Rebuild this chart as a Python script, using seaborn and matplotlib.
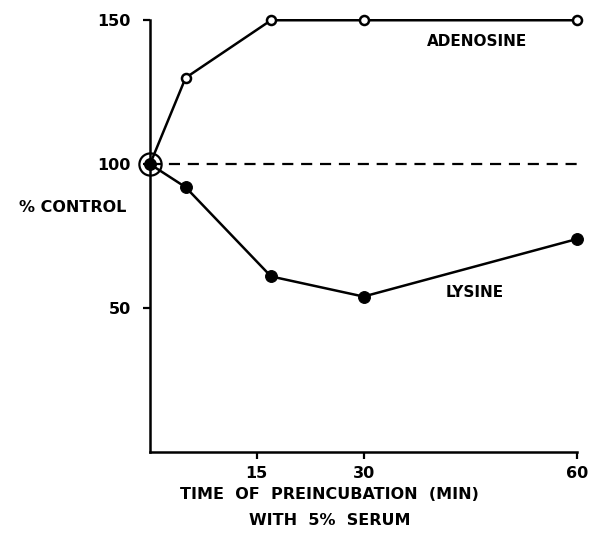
import pandas as pd
import matplotlib
matplotlib.use("Agg")
import matplotlib.pyplot as plt
import seaborn as sns

# time of preincubation (min) and % control
minutes = [0, 5, 17, 30, 60]
adenosine = [100, 130, 150, 150, 150]
lysine = [100, 92, 61, 54, 74]
x_ticks = [15, 30, 60]
y_ticks = [50, 100, 150]

df = pd.DataFrame({'min': minutes, 'adenosine': adenosine, 'lysine': lysine})

sns.set_style('ticks')
plt.rcParams['font.family'] = ['DejaVu Sans']
plt.rcParams['text.color'] = 'black'
plt.rcParams['axes.labelcolor'] = 'black'
plt.rcParams['xtick.color'] = 'black'
plt.rcParams['ytick.color'] = 'black'
plt.rcParams['axes.edgecolor'] = 'black'

fig = plt.figure(figsize=(5.93, 5.33), dpi=100)
ax = fig.add_axes([0.253, 0.152, 0.72, 0.81])

ax.axhline(100, xmin=0, xmax=1, color='black', lw=1.6, ls=(0, (5, 3.5)), zorder=1)

sns.lineplot(ax=ax, data=df, x='min', y='adenosine', color='black', lw=1.8,
             marker='o', markersize=6.5, markerfacecolor='white',
             markeredgecolor='black', markeredgewidth=1.8, clip_on=False, zorder=3)
sns.lineplot(ax=ax, data=df, x='min', y='lysine', color='black', lw=1.8,
             marker='o', markersize=8.5, markerfacecolor='black',
             markeredgecolor='black', clip_on=False, zorder=3)

# ring around the common starting point
ax.plot(minutes[0], lysine[0], 'o', ms=16, mfc='none', mec='black', mew=1.6,
        clip_on=False, zorder=4)

ax.text(46, 142.5, 'ADENOSINE', ha='center', va='center', fontsize=11, fontweight='bold')
ax.text(45.6, 55.5, 'LYSINE', ha='center', va='center', fontsize=11, fontweight='bold')

ax.set_xlim(0, 60)
ax.set_ylim(0, 150)
ax.set_xticks(x_ticks)
ax.set_yticks(y_ticks)
ax.tick_params(axis='both', direction='out', length=5, width=1.6, labelsize=11.5)
ax.tick_params(axis='y', pad=9)
ax.tick_params(axis='x', pad=5)
for lab in ax.get_xticklabels() + ax.get_yticklabels():
    lab.set_fontweight('bold')

ax.set_xlabel('TIME  OF  PREINCUBATION  (MIN)\nWITH  5%  SERUM', fontsize=11.5,
              fontweight='bold', linespacing=1.9)
ax.xaxis.set_label_coords(0.42, -0.082, transform=ax.transAxes)
ax.xaxis.label.set_va('top')
ax.set_ylabel('% CONTROL', rotation=0, fontsize=11.5, fontweight='bold', ha='center', va='center')
ax.yaxis.set_label_coords(-0.18, 0.567)

sns.despine(ax=ax)
for side in ['left', 'bottom']:
    ax.spines[side].set_linewidth(1.8)

fig.savefig('out.png', dpi=100)
